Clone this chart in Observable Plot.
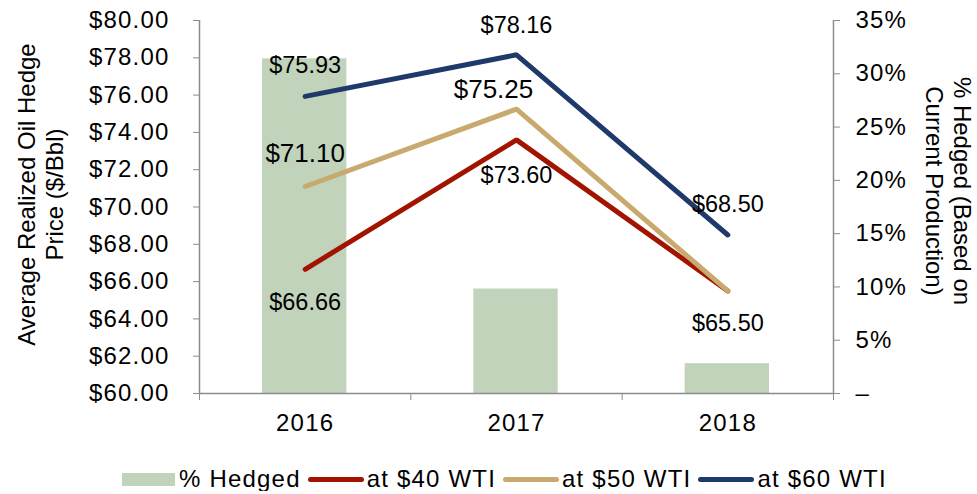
<!DOCTYPE html>
<html><head><meta charset="utf-8">
<script src="https://cdn.jsdelivr.net/npm/d3@7"></script>
<script src="https://cdn.jsdelivr.net/npm/@observablehq/plot@0.6"></script>
<style>
body{margin:0;background:#fff;font-family:"Liberation Sans",Arial,sans-serif;}
#chart svg text{letter-spacing:1.2px;}
#chart svg g[font-size] text{letter-spacing:0;}
#chart svg text[transform*="rotate"]{letter-spacing:0;}
.legend{display:flex;align-items:center;height:24px;margin-top:21px;padding-left:122px;font-size:24px;letter-spacing:1.2px;color:#000;}
.sw-bar{width:53px;height:13px;margin-right:4px;flex:none;}
.sw-line{width:56px;height:5px;border-radius:3px;margin-right:3px;flex:none;}
.lab{margin-right:7px;white-space:nowrap;}
</style></head><body>
<div id="chart"></div>
<div class="legend" id="legend"></div>
<script>
// ---- data ----
const years = [2016, 2017, 2018];
const hedgedPct = [31.4, 9.8, 2.8];
const wti40 = [66.66, 73.60, 65.50];
const wti50 = [71.10, 75.25, 65.50];
const wti60 = [75.93, 78.16, 68.50];
const leftTicks = [60, 62, 64, 66, 68, 70, 72, 74, 76, 78, 80];
const rightTicks = [0, 5, 10, 15, 20, 25, 30, 35];
const leftTitle = "Average Realized Oil Hedge\nPrice ($/Bbl)";
const rightTitle = "% Hedged (Based on\nCurrent Production)";
const barName = "% Hedged";
const seriesNames = ["at $40 WTI", "at $50 WTI", "at $60 WTI"];

// ---- style ----
const barColor = "#C1D3BB";
const lineColors = ["#A21400", "#C8A96E", "#1F3A6A"];
const axisColor = "#8C8C8C";
const labelSize = [23.5, 26, 23.5];
// label offsets (px) per series / year; null = no label
const labelDy = [[33, 36, 33], [-33, -19, null], [-31, -29, -31]];
const labelDx = [[0, 0, 0], [0, -23, 0], [0, 0, 0]];

const W = 977, H = 446, marginTopPx = 20, bottomY = 393;
const pctToY = p => 60 + p * 20 / 35;
const yToPct = v => Math.round((v - 60) * 35 / 20);

const bars = years.map((yr, i) => ({year: yr, pct: hedgedPct[i]}));
const seriesVals = [wti40, wti50, wti60];
const lines = seriesVals.map(vals => years.map((yr, i) => ({year: yr, value: vals[i]})));
const labels = [];
seriesVals.forEach((vals, s) => years.forEach((yr, i) => {
  if (labelDy[s][i] !== null) labels.push({year: yr, value: vals[i], dx: labelDx[s][i], dy: labelDy[s][i], size: labelSize[s]});
}));
const boundaries = [2015.5, 2016.5, 2017.5, 2018.5];

const marks = [
  Plot.rectY(bars, {x1: d => d.year - 0.5, x2: d => d.year + 0.5, y1: 60, y2: d => pctToY(d.pct), insetLeft: 63, insetRight: 64, fill: barColor}),
  Plot.ruleY([60], {stroke: axisColor, strokeWidth: 1.5}),
  Plot.ruleX([boundaries[0], boundaries[3]], {stroke: axisColor, strokeWidth: 1.5}),
  Plot.axisY({ticks: leftTicks, anchor: "left", tickSize: 6, tickPadding: 24, tickFormat: d => "$" + d.toFixed(2), stroke: axisColor, fill: "#000", label: null}),
  Plot.axisY({ticks: rightTicks.map(pctToY), anchor: "right", tickSize: 6, tickPadding: 16, tickFormat: d => { const p = yToPct(d); return p === 0 ? "\u2013" : p + "%"; }, stroke: axisColor, fill: "#000", label: null}),
  Plot.axisX({ticks: boundaries, tickSize: 7, tickFormat: () => "", stroke: axisColor, label: null}),
  Plot.axisX({ticks: years, tickSize: 0, tickPadding: 20, tickFormat: d => String(d), fill: "#000", label: null}),
];
lines.forEach((ld, s) => marks.push(Plot.line(ld, {x: "year", y: "value", stroke: lineColors[s], strokeWidth: 5, strokeLinecap: "round", strokeLinejoin: "miter"})));
labels.forEach(l => marks.push(Plot.text([l], {x: "year", y: "value", text: d => "$" + d.value.toFixed(2), dx: l.dx, dy: l.dy, fontSize: l.size, fill: "#000", lineAnchor: "middle"})));
marks.push(Plot.text([leftTitle], {frameAnchor: "left", textAnchor: "middle", rotate: -90, dx: -159.5, dy: -12.5, lineHeight: 1.17, lineAnchor: "middle", fill: "#000"}));
marks.push(Plot.text([rightTitle], {frameAnchor: "right", textAnchor: "middle", rotate: 90, dx: 115.5, dy: -16, lineHeight: 1.17, lineAnchor: "middle", fill: "#000"}));

const chart = Plot.plot({
  width: W, height: H,
  marginLeft: 199, marginRight: W - 833, marginTop: marginTopPx, marginBottom: H - bottomY,
  x: {type: "linear", domain: [boundaries[0], boundaries[3]], axis: null},
  y: {domain: [60, 80], axis: null},
  style: {fontFamily: '"Liberation Sans", Arial, sans-serif', fontSize: "24px", color: "#000", background: "#fff", overflow: "visible"},
  marks
});
document.getElementById("chart").appendChild(chart);

// legend
const lg = document.getElementById("legend");
const addItem = (sw, color, text) => {
  const s = document.createElement("div"); s.className = sw; s.style.background = color; lg.appendChild(s);
  const t = document.createElement("span"); t.className = "lab"; t.textContent = text; lg.appendChild(t);
};
addItem("sw-bar", barColor, barName);
seriesNames.forEach((n, i) => addItem("sw-line", lineColors[i], n));
</script></body></html>
